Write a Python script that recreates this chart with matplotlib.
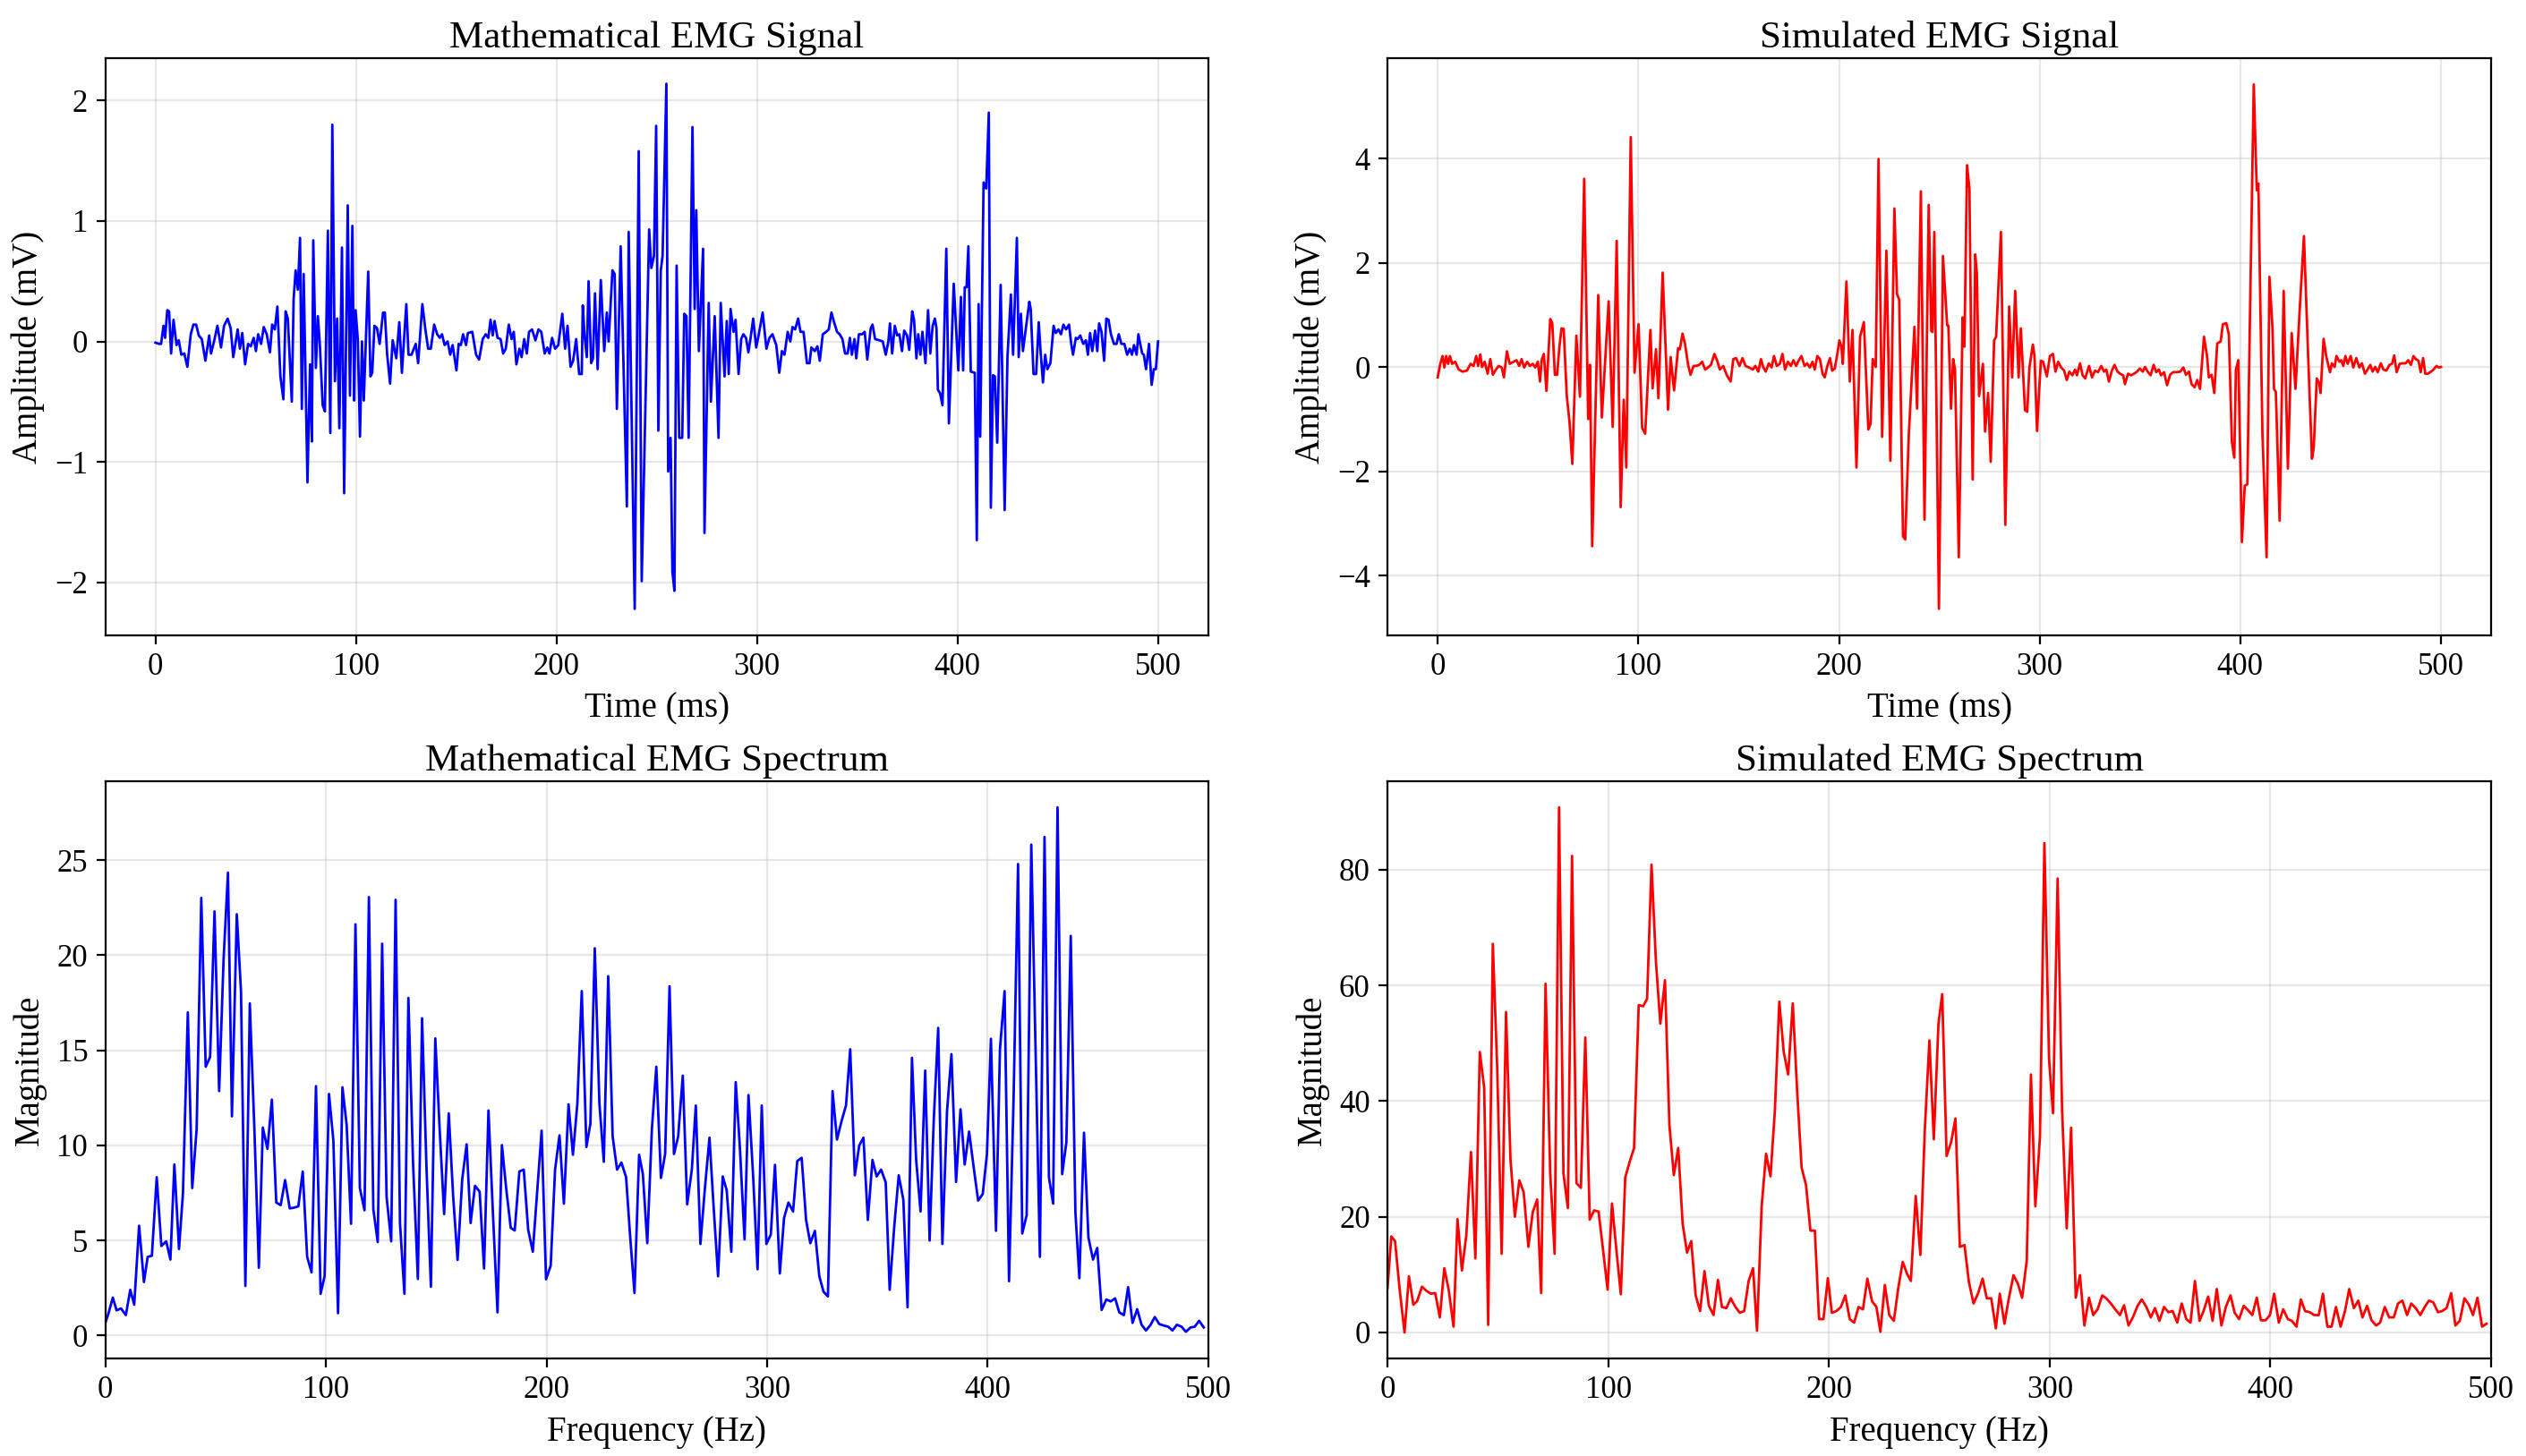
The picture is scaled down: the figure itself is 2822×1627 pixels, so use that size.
import matplotlib

matplotlib.use("Agg")
import matplotlib.pyplot as plt

plt.rcParams["font.family"] = ["Liberation Serif", "DejaVu Serif"]

# mathematical emg signal (time in ms, amplitude in mV)
math_t = [
    0, 1.8, 2.8, 4, 4.8, 5.9, 6.8, 7.8, 9, 10.5, 11.6, 12.9, 14.4, 15.9, 17.6, 18.9, 20.3, 21.6, 23.1, 24.9,
    26.8, 27.7, 29.2, 30.9, 32.7, 34.2, 36, 37.5, 38.8, 41, 42.1, 43.3, 44.7, 46.2, 47.5, 49, 50.1, 51.2, 52.7, 54,
    55.5, 57.1, 58.2, 59.5, 60.8, 62.3, 63.8, 64.9, 66, 68, 68.9, 69.9, 71, 72.1, 73, 73.9, 75.8, 77.1, 78, 78.7,
    80, 81, 81.9, 83.4, 84.5, 86, 87.2, 88.2, 89.5, 90.6, 91.7, 93, 94.1, 95.9, 97, 98.2, 99.1, 99.8, 100.9, 102,
    103, 103.9, 106.1, 107.2, 108.1, 109.2, 110.5, 111.8, 113.5, 114.4, 115.5, 117, 118.3, 120.1, 121.6, 122.9,
    125.1, 126.2, 127.7, 129.8, 131, 133.1, 134.6, 136, 137.3, 139, 140.5, 141.8, 142.9, 144.2, 145.7, 147,
    148.2, 150.1, 151.2, 152.3, 153.4, 154.9, 155.8, 158, 159.9, 161.4, 163.2, 164.7, 166, 167.1, 168.2, 169.1,
    170.6, 172.1, 173.4, 174.7, 176.2, 177.6, 178.7, 180, 181.5, 182.6, 183.9, 185.2, 186.3, 187.8, 189.5, 191,
    192.4, 194.1, 195.4, 196.5, 197.8, 199.3, 200.9, 202.9, 204.3, 205.5, 207, 208.3, 209.8, 211.3, 212.6,
    213.1, 214, 215.1, 216, 217.3, 218.2, 219.2, 220.5, 222.1, 223.8, 225.1, 226, 227.9, 229, 230.1, 232,
    235.1, 236, 239, 241, 242.5, 246.2, 247.3, 248.6,
    249.7, 250.8, 252, 252.9, 254.8, 255.7, 256.9, 257.8, 258.8, 259.9, 261.2, 262.7, 263.7, 264.8, 265.9,
    267.8, 268.9, 269.7, 271, 273.1, 273.8, 275.9, 277, 278.9, 280.8, 281.9, 283.8, 284.9, 285.9, 286.8, 288.3,
    289.3, 290.8, 292.1, 293.2, 294.5, 295.7, 296.8, 298.1, 299.6, 300.9, 302.8, 304.7, 306.2, 307.7, 309.6,
    311.1, 312.4, 313.7, 315.3, 316.6, 317.7, 319, 320.5, 321.7, 323.2, 324.9, 326.2, 327.1, 328.8, 330.1,
    331.3, 332.8, 334.5, 335.8, 337.1, 338.6, 339.9, 341.2, 342.6, 343.9, 345.2, 346.3, 347.3, 348.6, 349.5,
    350.8, 352.4, 353.7, 355, 356.7, 357.6, 358.9, 361, 362.7, 364.2, 365.5, 366.3, 367.4, 368.7, 369.9, 371,
    372.3, 373.4, 374.8, 375.9, 377.4, 378.3, 379.5, 380.4, 381.5, 382.5, 384, 385.3, 386.4, 387.6, 388.7,
    389.5, 390.2, 391.3, 392.5, 394.4, 395.7, 398.1, 400.4, 401.7, 402.8, 403.6, 404.5, 405.4, 406.6, 408.6,
    409.6, 410.5, 411.3, 413, 414.3, 415.6, 416.6, 417.7, 418.6, 419.8, 421.5, 423.5, 424.9, 426.6, 427.7,
    429.6, 430.5, 431.6, 432.6, 434.3, 435.8, 436.5, 437.9, 439.2, 440.5, 441.4, 442.6, 443.7, 444.8, 446.3,
    447.9, 449, 450.3, 451.6, 452.8, 454.1, 455.6, 456.7, 457.6, 459, 459.9, 461.2, 462.7, 464, 465, 466.1,
    467.2, 468.6, 469.7, 470.6, 471.8, 473.1, 474.2, 475.3, 476.5, 478, 479.3, 480.4, 481.7, 483.2, 484.6,
    485.9, 487, 488, 489.3, 490.2, 491.1, 492.1, 492.9, 494, 495.5, 496.8, 497.9, 498.9, 500,
]
math_v = [
    -0.01, -0.02, -0.02, 0.13, 0.03, 0.26, 0.25, -0.10, 0.18, -0.03, 0.01, -0.11, -0.10, -0.21, 0.06, 0.14, 0.14, 0.05, 0.02, -0.16,
    0.05, -0.10, 0.00, 0.13, -0.05, 0.13, 0.19, 0.11, -0.13, 0.10, -0.06, 0.07, -0.19, -0.02, -0.04, 0.03, -0.08, 0.06, -0.02, 0.12,
    0.06, -0.09, 0.14, 0.10, 0.29, -0.29, -0.48, 0.25, 0.19, -0.50, 0.35, 0.59, 0.43, 0.86, -0.56, 0.56, -1.17, -0.19, -0.83, 0.84,
    -0.22, 0.21, 0.00, -0.53, -0.58, 0.92, -0.76, 1.80, -0.33, 0.19, -0.72, 0.78, -1.26, 1.13, -0.45, 0.96, -0.49, 0.26, 0.02, -0.79,
    0.00, -0.49, 0.58, -0.29, -0.26, 0.13, 0.11, -0.02, 0.24, 0.24, -0.10, -0.35, 0.01, -0.14, 0.16, -0.26,
    0.31, -0.11, -0.11, -0.02, -0.18, 0.31, 0.10, -0.06, -0.06, 0.14, 0.06, 0.03, 0.06, -0.03, 0.00, -0.11,
    -0.03, -0.24, -0.02, -0.03, 0.06, -0.03, 0.07, 0.08, -0.11, -0.15, 0.02, 0.06, 0.03, 0.18, 0.05, 0.17,
    0.03, 0.02, -0.10, -0.06, 0.14, 0.02, 0.08, -0.19, -0.06, -0.13, 0.02, -0.10, 0.08, 0.10, 0.01, 0.10,
    0.08, -0.10, -0.05, -0.10, 0.03, -0.06, -0.03, 0.23, -0.06, 0.13, -0.21, -0.16, 0.02, -0.27, -0.27,
    0.30, 0.05, -0.13, 0.50, -0.18, -0.14, 0.40, -0.23, 0.51, -0.08, 0.24, 0.00, 0.59, 0.56, -0.56, 0.79,
    -1.37, 0.91, -2.22, 1.58, -1.99, 0.93, 0.61, 0.71,
    1.79, -0.74, 0.59, 0.71, 2.14, -1.08, -0.80, -1.91, -2.07, 0.63, -0.80, -0.80, 0.23, 0.21, -0.80,
    1.78, 0.27, 1.09, -0.08, 0.77, -1.59, 0.32, -0.50, 0.21, -0.80, 0.32, -0.29, 0.17, -0.27, 0.27, 0.08,
    0.18, -0.27, 0.02, 0.06, 0.03, -0.09, 0.03, 0.19, -0.05, 0.06, 0.24, -0.06, 0.03, 0.06, -0.03,
    -0.26, -0.08, -0.11, 0.08, 0.00, 0.12, 0.10, 0.19, 0.08, 0.08, -0.18, -0.18, -0.05, -0.08, -0.04,
    -0.16, 0.06, 0.08, 0.10, 0.24, 0.15, 0.08, 0.06, 0.02, -0.10, -0.10, 0.03, -0.11, 0.02, -0.14,
    0.06, 0.06, 0.08, -0.15, 0.11, 0.14, 0.02, 0.01, 0.00, -0.11, 0.00, 0.15, -0.10, 0.13, 0.05, 0.06,
    -0.08, 0.09, 0.05, -0.07, 0.25, 0.18, -0.14, 0.06, -0.11, 0.08, -0.18, 0.26, -0.10, 0.13, 0.19,
    0.11, -0.40, -0.43, -0.53, 0.77, -0.68, 0.48, -0.24, 0.37, -0.24, 0.45, 0.45, 0.79, -0.25, -0.26,
    -1.65, 0.31, -0.79, 1.32, 1.27, 1.90, -1.38, -0.28, -0.29, -0.84, 0.47, -1.40, -0.13, 0.39, -0.11,
    0.86, -0.13, 0.23, -0.08, 0.14, 0.33, 0.27, -0.27, -0.27, 0.16, -0.08, -0.34, -0.11, -0.23, -0.18,
    0.13, 0.07, 0.10, 0.06, 0.14, 0.10, 0.14, -0.02, -0.11, 0.03, 0.02, 0.05, -0.02, 0.01, -0.11, 0.07,
    -0.08, 0.09, -0.08, 0.15, 0.08, -0.16, 0.19, 0.18, 0.06, -0.02, -0.02, 0.06, -0.02, -0.02, -0.11,
    -0.06, -0.11, -0.03, -0.11, 0.06, -0.02, -0.10, -0.11, -0.23, -0.02, -0.36, -0.23, -0.23, 0.00,
]

# simulated emg signal
sim_t = [
    0, 1.3, 2.4, 3.3, 4.2, 5.2, 6.1, 7.2, 8.7, 10.5, 12.4, 14.6, 16.4, 17.9, 19.2, 20.1, 21.2, 22.1, 23.4, 24.9,
    26.2, 27.5, 29, 30.4, 31.9, 33, 34.5, 35.9, 37.8, 39.3, 40.6, 41.8, 43.1, 44.6, 45.9, 47.4, 48.6, 49.9, 51,
    51.8, 52.9, 54.2, 56.1, 57.1, 58.4, 59.5, 60.6, 61.7, 62.8, 64.3, 65.7, 67.1, 69.1, 70.9, 73, 75, 75.9, 77,
    80, 81.8, 85.2, 87.2, 89.2, 91.2, 92.7, 94, 96.2, 98.1, 100.1, 101.9, 103.4, 106, 107.1, 108.8, 110, 112.1,
    114.8, 116.1, 117.8, 119.8, 120.7, 122, 123.3, 124.8, 126, 127.5, 128.8, 130.3, 131.8, 133.3, 134.7, 136.2,
    137.9, 139.2, 140.6, 142.3, 144.1, 146, 147.3, 148.7, 150.4, 151.9, 153.4, 155.2, 157.1, 158.3, 159.8,
    161.1, 162.2, 163.5, 165, 166.4, 167.6, 169, 170.5, 171.8, 173.1, 174.5, 176, 177.3, 178.6, 180, 181.3,
    182.8, 184.1, 185.5, 186.8, 187.9, 189.2, 190.5, 191.8, 192.9, 194.2, 195.5, 196.6, 197.9, 199.3, 200.2,
    201.2, 201.9, 203.7, 205.4, 206.7, 208.7, 210.5, 212.4, 214.6, 215.7, 216.8, 218.3, 219.7, 221.5, 223.6,
    225.6, 227.6, 228.9, 230, 231.9, 233,
    234.8, 237.6, 238.9, 240.8, 242.6, 244.7, 246, 246.6, 247.5, 249.8, 251.8, 253.9, 254.5, 255.8, 256.9,
    257.8, 259.7, 261.6, 262.5, 263.8, 265, 266.6, 267.9, 268.7, 269.8, 271.7, 272.8, 274.3, 275.6, 277.3,
    278.3, 280.7, 282.9, 284.8, 286.3, 287.8, 289.5, 290.6, 292.7, 293.8, 294.9, 296.6, 297.4, 298.7, 299.8,
    300.6, 301.7, 303.6, 305.1, 306.6, 307.9, 309.2, 310.7, 312.2, 313.5, 314.8, 316.3, 317.6, 318.6, 320.1,
    321.4, 322.7, 324.6, 326.1, 327.6, 329.1, 330.7, 332.1, 333.2, 334.5, 336, 337.3, 338.8, 340.1, 341.6,
    342.5, 344, 345.5, 347, 348.5, 349.9, 351.4, 352.5, 353.8, 355.3, 356.8, 358.1, 359.4, 360.5, 362, 363.5,
    365, 366.5, 368.2, 370.1, 371.6, 372.9, 374.4, 375.7, 377.2, 378.5, 379.9, 381.9, 383.4, 384.3, 385.7,
    387, 388.5, 390.2, 391.3, 393, 394.3, 395.8, 397, 397.8, 399, 400.8, 402.2, 403.5, 404.8, 406.7, 408.2,
    409, 411, 413.1, 414.5, 416, 416.8, 417.7, 419.6, 421.6, 423.7, 425.6, 427.5, 429.5, 431.7, 433.8, 435.7,
    436.6, 438.1, 439.3, 440, 441.5, 442.8, 443.8, 444.7, 445.6, 447, 447.9, 449.4, 450.3, 451.3, 452.4,
    453.5, 455, 456.3, 457.8, 459.3, 460.6, 462.1, 463.4, 464.8, 465.9, 467.2, 468.5, 470, 471.3, 472.8,
    474.3, 475.6, 476.7, 477.9, 479.4, 480.9, 482.4, 483.7, 485, 486.3, 487.5, 488.8, 489.9, 491.1, 492.2,
    493.5, 495, 496.3, 497.8, 498.9, 500,
]
sim_v = [
    -0.20, 0.06, 0.21, -0.01, 0.21, 0.06, 0.21, 0.06, 0.10, -0.05, -0.09, -0.07, 0.06, 0.02, 0.21, 0.02, 0.24, 0.00, 0.10, -0.13,
    0.15, -0.15, -0.05, 0.02, -0.01, -0.20, 0.30, 0.06, 0.10, 0.13, 0.02, 0.15, -0.01, 0.10, 0.02, 0.06, -0.01, 0.10, -0.28,
    0.13, 0.25, -0.46, 0.92, 0.84, -0.15, -0.15, 0.36, 0.74, 0.73, -0.54, -1.06, -1.86, 0.60, -0.57, 3.61, -1.00, 0.04, -3.44,
    1.38, -0.97, 1.26, -1.15, 2.42, -2.69, -0.63, -1.93, 4.41, -0.11, 0.82, -1.17, -1.28, 0.71, -0.41, 0.34, -0.60, 1.81,
    -0.82, 0.19, -0.45, 0.36, 0.34, 0.64, 0.43, 0.04, -0.15, 0.02, 0.02, 0.04, 0.10, -0.05, -0.01, 0.04,
    0.25, 0.13, -0.05, 0.02, -0.16, -0.28, 0.15, 0.17, 0.02, 0.17, 0.02, -0.01, -0.05, 0.02, -0.09,
    0.15, 0.00, -0.09, 0.07, -0.01, 0.21, 0.02, 0.06, 0.25, -0.05, 0.10, 0.02, 0.13, 0.02, 0.13, 0.21,
    0.02, 0.07, -0.01, 0.10, -0.05, 0.21, 0.15, -0.13, -0.20, 0.02, 0.17, -0.07, -0.03, 0.28, 0.51,
    0.39, 0.06, 1.64, -0.28, 0.71, -1.93, 0.58, 0.86, -1.20, -1.09, 0.15, 0.00, 3.99, -1.34, 2.23,
    -1.80, 3.04, 1.40, 1.29, -3.25, -3.31,
    -1.28, 0.77, -0.80, 3.37, -2.93, 3.11, 0.69, 0.67, 2.59, -4.64, 2.13, 0.80, 0.79, -0.80, 0.15,
    -0.05, -3.65, 0.95, 0.39, 3.87, 3.42, -2.16, 2.16, 1.79, -0.56, 0.06, -1.24, -0.50, -1.82, 0.51,
    0.58, 2.59, -3.03, 1.16, -0.20, 1.46, -0.20, 0.74, -0.83, -0.86, -0.01, 0.43, 0.22, -1.23, -0.42,
    0.12, 0.10, -0.18, 0.21, 0.25, -0.09, 0.10, -0.01, -0.07, -0.25, -0.09, -0.16, -0.05, -0.16, 0.07,
    -0.16, -0.22, 0.02, -0.20, -0.07, -0.10, 0.02, -0.09, -0.05, -0.28, -0.07, 0.04, -0.09, -0.13, -0.16,
    -0.33, -0.13, -0.16, -0.13, -0.09, -0.03, -0.09, 0.00, -0.09, -0.16, 0.04, -0.10, -0.05, -0.16, -0.10, -0.35,
    -0.15, -0.10, -0.10, -0.09, -0.01, -0.15, -0.09, -0.33, -0.39, -0.25, -0.42, 0.58, 0.21, -0.20, -0.15,
    -0.50, 0.45, 0.49, 0.82, 0.84, 0.62, -1.44, -1.74, -0.05, 0.13, -3.36, -2.28, -2.25, 0.95, 5.42, 3.39,
    3.52, -1.24, -3.65, 1.73, 0.77, -0.42, -0.48, -2.95, 1.46, -1.95, 0.65, -0.42, 1.03, 2.51, 0.21, -1.76,
    -1.54, -0.22, -0.31, -0.50, 0.54, 0.21, 0.04, -0.10, 0.07, 0.00, 0.21, 0.10, 0.13, 0.02, 0.21,
    0.06, 0.21, -0.01, 0.17, -0.01, 0.07, -0.13, -0.05, 0.04, -0.09, 0.00, -0.10, 0.07, -0.05, -0.07,
    0.04, 0.06, 0.22, -0.10, 0.06, 0.07, 0.07, 0.13, 0.04, 0.21, 0.15, 0.12, -0.10, 0.17, -0.13,
    -0.13, -0.09, -0.05, 0.02, -0.01, 0.00,
]

# mathematical emg spectrum (frequency in Hz)
math_f = [
    0, 1.2, 3.4, 5.1, 7.1, 9.3, 11.3, 13.1, 15.3, 17.5, 19.2, 21.1, 23.3, 25.4, 27.6, 29.5, 31.3, 33.4, 35.2,
    37.4, 39.4, 41.4, 43.5, 45.5, 47.5, 49.5, 51.6, 53.6, 55.6, 57.4, 59.6, 61.5, 63.5, 65.5, 67.6, 69.6, 71.4,
    73.5, 75.5, 77.5, 79.5, 81.5, 83.6, 85.6, 87.5, 89.5, 91.5, 93.5, 95.5, 97.6, 99.4, 101.4, 103.4, 105.5,
    107.5, 109.4, 111.4, 113.4, 115.4, 117.5, 119.5, 121.5, 123.5, 125.5, 127.5, 129.6, 131.6, 133.6, 135.6,
    137.4, 139.5, 141.7, 143.6, 145.6, 147.6, 149.6, 151.6, 153.6, 155.7, 157.7, 159.7, 161.8, 163.8, 165.6,
    167.6, 169.7, 171.7, 173.7, 175.7, 177.8, 179.8, 181.8, 183.8, 185.6, 187.7, 189.7, 191.7, 193.8, 197.8,
    199.8, 201.9, 203.9, 205.9, 207.9, 210, 212, 214, 216, 218.1, 219.9, 221.9, 224, 226, 228, 230, 232, 234,
    236.1,
    237.9, 239.9, 242, 243.7, 245.7, 247.8, 249.8, 251.9, 253.8, 255.8, 257.8, 259.7, 261.8, 263.8, 265.9,
    267.7, 269.8, 271.8, 273.9, 275.8, 277.8, 279.9, 281.7, 283.8, 285.8, 287.7, 289.8, 291.6, 293.7, 295.7,
    297.6, 299.7, 301.7, 303.6, 305.8, 307.7, 309.7, 311.8, 313.7, 315.7, 317.7, 319.6, 321.7, 323.7, 325.6,
    327.6, 329.7, 331.7, 333.8, 335.8, 337.7, 339.8, 341.8, 343.7, 345.7, 347.8, 349.7, 351.7, 353.8, 355.6,
    357.7, 359.7, 361.8, 363.7, 365.7, 367.6, 369.6, 371.7, 373.7, 375.6, 377.6, 379.5, 381.6, 383.6, 385.7,
    387.7, 389.6, 391.6, 393.7, 395.7, 397.8, 399.7, 401.5, 403.8, 405.6, 407.7, 409.7, 411.8, 413.8, 415.7,
    417.7, 419.8, 421.8, 423.7, 425.8, 427.8, 429.7, 431.7, 433.8, 435.7, 437.7, 439.8, 441.6, 443.7, 445.7,
    447.8, 449.7, 451.7, 453.8, 455.8, 457.8, 459.7, 461.8, 463.7, 465.7, 467.8, 469.8, 471.8, 473.9, 475.8,
    477.8, 479.9, 481.9, 483.8, 485.8, 487.9, 489.9, 492, 493.9, 495.9, 498,
]
math_mag = [
    0.67, 1.08, 2.00, 1.33, 1.43, 1.08, 2.41, 1.63, 5.78, 2.82, 4.14, 4.20, 8.33, 4.71, 4.96, 4.00, 9.00, 4.55, 7.51,
    17.00, 7.76, 10.88, 23.02, 14.14, 14.65, 22.31, 12.86, 19.76, 24.35, 11.53, 22.16, 18.12, 2.61, 17.47, 10.78, 3.57, 10.94,
    9.82, 12.41, 7.00, 6.86, 8.18, 6.69, 6.73, 6.80, 8.63, 4.14, 3.33, 13.12, 2.20, 3.12, 12.71, 10.24, 1.18,
    13.06, 11.08, 5.88, 21.63, 7.76, 6.59, 23.06, 6.65, 4.92, 20.61, 7.31, 4.96, 22.92, 5.88, 2.20,
    17.76, 9.10, 2.98, 16.69, 8.84, 2.57, 15.63, 10.78, 6.39, 11.69, 7.31, 3.98, 8.22, 10.06, 5.92,
    7.88, 7.57, 3.53, 11.84, 6.49, 1.22, 10.02, 7.67, 5.67, 5.53, 8.63, 8.73, 5.57, 4.41, 10.78,
    2.96, 3.67, 8.73, 10.53, 6.94, 12.16, 9.51, 12.20, 18.12, 9.92, 11.14, 20.37, 12.20, 9.14, 18.90, 10.47, 8.73, 9.10,
    8.33,
    5.27, 2.24, 9.51, 8.50, 4.86, 10.88, 14.14, 8.29, 9.55, 18.37, 9.55, 10.47, 13.67, 6.90, 8.73,
    12.10, 4.82, 7.71, 10.41, 6.73, 3.12, 8.37, 7.65, 4.41, 13.33, 9.86, 5.06, 12.65, 8.37, 3.49,
    12.10, 4.82, 5.31, 8.98, 3.27, 6.18, 7.00, 6.53, 9.18, 9.35, 6.08, 4.86, 5.51, 3.12, 2.31,
    2.06, 12.86, 10.31, 11.29, 12.10, 15.06, 8.43, 10.00, 10.41, 6.08, 9.24, 8.37, 8.73, 8.06, 2.41,
    5.78, 8.43, 7.14, 1.49, 14.61, 9.24, 6.53, 13.94, 5.00, 11.39, 16.18, 4.82, 11.80, 14.80, 8.08,
    11.90, 9.00, 10.73, 8.84, 7.10, 7.45, 9.55, 15.61, 5.51, 15.06, 18.12, 2.86, 12.61, 24.80, 5.37,
    6.33, 25.82, 14.76, 4.14, 26.22, 8.33, 6.94, 27.78, 8.49, 10.16, 21.02, 6.49, 3.02, 10.67, 5.16,
    4.00, 4.61, 1.35, 1.90, 1.80, 1.96, 1.22, 1.08, 2.55, 0.67, 1.39, 0.57, 0.27, 0.57, 0.98,
    0.61, 0.53, 0.47, 0.27, 0.57, 0.47, 0.20, 0.43, 0.47, 0.78, 0.43,
]

# simulated emg spectrum
sim_f = [
    0, 1.7, 3.4, 5.5, 7.7, 9.7, 11.7, 13.4, 15.6, 17.6, 19.6, 21.6, 23.7, 25.7, 27.7, 29.9, 31.7, 33.7, 35.7,
    37.8, 39.8, 41.8, 43.8, 45.6, 47.7, 49.7, 51.7, 53.7, 55.7, 57.7, 59.7, 61.7, 63.8, 65.8, 67.8, 69.6, 71.6,
    73.7, 75.7, 77.7, 79.7, 81.7, 83.6, 85.6, 87.6, 89.6, 91.6, 93.6, 95.6, 97.7, 99.7, 101.7, 103.7, 105.7,
    107.7, 109.7, 111.7, 113.8, 115.8, 117.6, 119.6, 121.6, 123.6, 125.7, 127.7, 129.7, 131.7, 133.7, 135.7,
    137.6, 139.6, 141.6, 143.6, 145.6, 147.7, 149.7, 151.5, 153.5, 155.5, 157.6, 159.6, 161.6, 163.6, 165.6,
    167.4, 169.5, 171.5, 173.5, 175.5, 177.5, 179.5, 181.5, 183.6, 185.6, 187.6, 189.6, 191.6, 193.6, 195.5,
    197.5, 199.5, 201.3, 203.4, 205.4, 207.4, 209.4, 211.4, 213.4, 215.4, 217.4, 219.5, 221.5, 223.3, 225.3,
    227.3, 229.4, 231.4, 233.4, 235.4,
    237.1, 239.3, 241.4, 243.4, 245.5, 247.5, 249.6, 251.3, 253.3, 255.4, 257.3, 259.3, 261.4, 263.4, 265.5,
    267.5, 269.6, 271.5, 273.5, 275.6, 277.4, 279.5, 281.5, 283.6, 285.6, 287.5, 289.6, 291.5, 293.5, 295.6,
    297.6, 299.7, 301.5, 303.6, 305.6, 307.7, 309.7, 311.8, 313.7, 315.7, 317.8, 319.7, 321.7, 323.8, 325.6,
    327.7, 329.7, 331.8, 333.7, 335.7, 337.8, 339.8, 341.7, 343.8, 345.8, 347.7, 349.7, 351.8, 353.8, 355.7,
    357.8, 359.8, 361.9, 363.8, 365.8, 367.9, 369.7, 371.8, 373.8, 375.7, 377.8, 379.8, 381.9, 383.8, 385.8,
    387.9, 389.7, 391.8, 393.8, 395.7, 397.8, 399.8, 401.7, 403.8, 405.8, 407.9, 409.7, 411.8, 413.8, 415.7,
    417.8, 419.8, 421.9, 423.8, 425.8, 427.7, 429.7, 431.8, 433.8, 435.7, 437.8, 439.8, 441.7, 443.8, 445.8,
    447.9, 449.7, 451.8, 453.8, 455.9, 457.8, 459.8, 461.9, 463.8, 465.8, 467.9, 469.9, 471.8, 473.8, 475.9,
    477.8, 479.8, 481.9, 483.8, 485.8, 487.9, 489.9, 491.8, 493.8, 495.9, 497.9,
]
sim_mag = [
    7.7, 16.6, 15.8, 7.4, 0.0, 9.7, 4.8, 5.4, 7.9, 7.2, 6.7, 6.8, 2.6, 11.1, 7.4, 1.0, 19.6, 10.7, 16.8,
    31.2, 12.8, 48.5, 42.3, 1.3, 67.2, 45.6, 13.6, 55.4, 29.9, 20.0, 26.3, 24.2, 14.8, 20.8, 23.0, 6.8, 60.3,
    27.5, 13.6, 90.8, 27.5, 21.5, 82.4, 25.8, 25.0, 51.0, 19.5, 21.1, 20.9, 14.1, 7.4, 22.3, 14.2, 6.6,
    26.8, 29.5, 31.9, 56.6, 56.4, 57.7, 80.9, 64.1, 53.4, 60.9, 35.9, 27.2, 31.9, 18.8, 13.8,
    15.8, 6.4, 3.7, 10.6, 4.6, 3.0, 9.1, 4.4, 4.2, 5.9, 4.4, 3.4, 3.7, 8.9, 11.1,
    0.3, 21.8, 30.9, 27.0, 38.4, 57.2, 48.5, 44.6, 56.9, 41.6, 28.5, 25.5, 17.6, 17.6, 2.3,
    2.3, 9.4, 3.4, 3.7, 4.4, 6.4, 2.3, 1.7, 4.4, 4.0, 9.3, 5.4, 4.4, 0.1, 8.2,
    3.0, 2.0, 7.7, 12.2, 10.1,
    8.9, 23.6, 13.4, 34.9, 50.5, 33.4, 53.4, 58.5, 30.5, 33.0, 37.0, 14.8, 15.1, 8.7, 5.0,
    6.7, 9.3, 5.9, 5.9, 0.7, 6.7, 1.5, 5.9, 9.9, 8.4, 6.0, 12.4, 44.6, 21.8, 33.9,
    84.6, 47.3, 37.9, 78.5, 38.6, 18.0, 35.4, 6.0, 9.9, 1.2, 6.0, 3.0, 4.0, 6.4, 5.9,
    5.0, 4.0, 3.0, 4.7, 1.2, 2.7, 4.6, 5.7, 4.4, 2.6, 4.2, 2.0, 4.4, 3.5, 3.7,
    1.7, 5.0, 2.3, 1.7, 8.9, 2.0, 3.7, 6.2, 2.0, 7.5, 1.2, 4.4, 6.4, 3.4, 2.3,
    4.6, 3.9, 3.0, 6.0, 2.1, 2.1, 3.0, 6.7, 1.7, 4.0, 2.3, 2.0, 1.0, 5.7, 3.7,
    3.5, 3.0, 3.0, 6.7, 1.0, 1.0, 4.4, 1.0, 3.7, 7.5, 4.2, 5.5, 2.6, 4.6, 2.1,
    1.2, 1.7, 4.4, 2.6, 2.6, 5.0, 5.5, 3.0, 5.0, 4.2, 3.0, 4.4, 5.5, 5.2, 3.5,
    3.7, 4.2, 6.8, 1.2, 2.0, 5.9, 4.8, 3.0, 6.0, 1.0, 1.5,
]


def style_axes(ax, title, xlabel, ylabel):
    ax.set_title(title, fontsize=15.5, pad=4.5)
    ax.set_xlabel(xlabel, fontsize=14)
    ax.set_ylabel(ylabel, fontsize=14)
    ax.tick_params(labelsize=12.5)
    ax.grid(True, alpha=0.3)


def main() -> None:
    fig = plt.figure(figsize=(14.11, 8.135), dpi=200)
    ax_tl = fig.add_axes([0.0417, 0.5636, 0.4366, 0.3963])
    ax_tr = fig.add_axes([0.5493, 0.5636, 0.4369, 0.3963])
    ax_bl = fig.add_axes([0.0417, 0.0670, 0.4366, 0.3964])
    ax_br = fig.add_axes([0.5493, 0.0670, 0.4369, 0.3964])

    ax_tl.plot(math_t, math_v, color="blue", lw=1.0)
    style_axes(ax_tl, "Mathematical EMG Signal", "Time (ms)", "Amplitude (mV)")
    ax_tl.set_xlim(-25, 525)
    ax_tl.set_ylim(-2.44, 2.35)

    ax_tr.plot(sim_t, sim_v, color="red", lw=1.0)
    style_axes(ax_tr, "Simulated EMG Signal", "Time (ms)", "Amplitude (mV)")
    ax_tr.set_xlim(-25, 525)
    ax_tr.set_ylim(-5.15, 5.92)

    ax_bl.plot(math_f, math_mag, color="blue", lw=1.0)
    style_axes(ax_bl, "Mathematical EMG Spectrum", "Frequency (Hz)", "Magnitude")
    ax_bl.set_xlim(0, 500)
    ax_bl.set_ylim(-1.2, 29.15)

    ax_br.plot(sim_f, sim_mag, color="red", lw=1.0)
    style_axes(ax_br, "Simulated EMG Spectrum", "Frequency (Hz)", "Magnitude")
    ax_br.set_xlim(0, 500)
    ax_br.set_ylim(-4.5, 95.3)

    fig.savefig("out.png", dpi=200)
    plt.close(fig)


if __name__ == "__main__":
    main()
